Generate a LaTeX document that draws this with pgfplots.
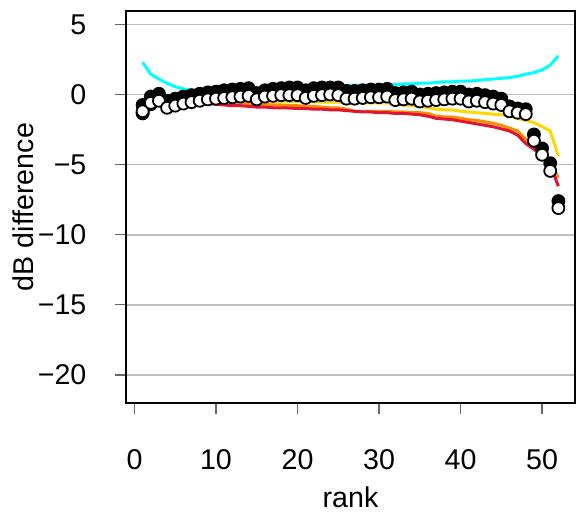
\documentclass[border=0pt]{standalone}
\usepackage{fontspec}
\setmainfont{Liberation Sans}
\usepackage{pgfplots}
\pgfplotsset{compat=1.18}
\usepackage{pgfplotstable}

\pgfplotstableread{
x b w
1 -0.75 -1.2
2 -0.15 -0.6
3 0.05 -0.45
4 -0.45 -0.95
5 -0.3 -0.8
6 -0.15 -0.65
7 -0.05 -0.55
8 0.05 -0.45
9 0.15 -0.35
10 0.2 -0.3
11 0.3 -0.25
12 0.35 -0.2
13 0.4 -0.15
14 0.45 -0.1
15 0.1 -0.35
16 0.3 -0.15
17 0.4 -0.1
18 0.45 -0.05
19 0.5 -0.05
20 0.5 -0.05
21 0.3 -0.25
22 0.45 -0.1
23 0.5 -0.05
24 0.5 0.0
25 0.5 -0.05
26 0.25 -0.3
27 0.25 -0.3
28 0.3 -0.25
29 0.35 -0.2
30 0.35 -0.2
31 0.4 -0.15
32 0.1 -0.4
33 0.15 -0.35
34 0.2 -0.3
35 0.0 -0.5
36 0.05 -0.45
37 0.1 -0.4
38 0.15 -0.35
39 0.2 -0.3
40 0.2 -0.3
41 0.0 -0.5
42 0.05 -0.45
43 -0.05 -0.55
44 -0.15 -0.65
45 -0.3 -0.75
46 -0.85 -1.2
47 -1.0 -1.3
48 -1.05 -1.4
49 -2.85 -3.3
50 -3.85 -4.3
51 -4.9 -5.45
52 -7.6 -8.1
}\pts

\pgfplotstableread{
x c y o r
1 2.3 -1.2 -1.3 -1.35
2 1.45 -0.7 -0.75 -0.8
3 1.1 -0.55 -0.6 -0.7
4 0.8 -0.8 -0.9 -1.0
5 0.55 -0.65 -0.75 -0.85
6 0.4 -0.55 -0.65 -0.75
7 0.3 -0.45 -0.55 -0.7
8 0.3 -0.4 -0.5 -0.65
9 0.3 -0.35 -0.5 -0.65
10 0.3 -0.35 -0.5 -0.7
11 0.3 -0.35 -0.55 -0.75
12 0.35 -0.4 -0.6 -0.8
13 0.35 -0.4 -0.6 -0.8
14 0.35 -0.4 -0.65 -0.85
15 0.4 -0.45 -0.7 -0.9
16 0.4 -0.45 -0.7 -0.9
17 0.45 -0.45 -0.75 -0.95
18 0.45 -0.5 -0.75 -0.95
19 0.45 -0.5 -0.8 -0.97
20 0.5 -0.5 -0.8 -1.0
21 0.5 -0.5 -0.85 -1.0
22 0.5 -0.5 -0.85 -1.05
23 0.55 -0.55 -0.9 -1.05
24 0.6 -0.55 -0.95 -1.1
25 0.65 -0.55 -0.95 -1.1
26 0.65 -0.6 -1.05 -1.15
27 0.65 -0.6 -1.2 -1.2
28 0.65 -0.6 -1.2 -1.25
29 0.65 -0.6 -1.2 -1.25
30 0.65 -0.6 -1.2 -1.3
31 0.7 -0.6 -1.2 -1.3
32 0.7 -0.7 -1.25 -1.35
33 0.75 -0.75 -1.25 -1.35
34 0.75 -0.8 -1.3 -1.4
35 0.8 -0.85 -1.3 -1.45
36 0.8 -0.95 -1.35 -1.55
37 0.85 -1.05 -1.55 -1.7
38 0.9 -1.1 -1.6 -1.75
39 0.9 -1.1 -1.6 -1.8
40 0.95 -1.2 -1.7 -1.9
41 0.95 -1.25 -1.8 -2.0
42 1.0 -1.3 -1.85 -2.1
43 1.05 -1.35 -1.95 -2.2
44 1.1 -1.4 -2.05 -2.3
45 1.15 -1.45 -2.2 -2.45
46 1.2 -1.5 -2.4 -2.6
47 1.3 -1.7 -2.6 -2.9
48 1.45 -1.85 -3.2 -3.5
49 1.55 -2.0 -3.7 -3.9
50 1.75 -2.3 -4.2 -4.4
51 2.1 -2.6 -4.8 -5.0
52 2.75 -4.4 -5.95 -6.55
}\lns

\definecolor{mycyan}{RGB}{0,255,255}
\definecolor{mygold}{RGB}{255,215,0}
\definecolor{myorange}{RGB}{255,140,0}
\definecolor{myred}{RGB}{225,20,50}
\definecolor{gridgray}{RGB}{190,190,190}

\begin{document}
\begin{tikzpicture}
\useasboundingbox (-63pt,-56.5pt) rectangle (227.5pt,201.5pt);
\begin{axis}[
  at={(0pt,0pt)}, anchor=south west,
  width=224.5pt, height=196pt, scale only axis,
  xmin=-1.04, xmax=54.04, ymin=-22, ymax=5.95,
  xtick={0,10,20,30,40,50},
  xticklabels={0,10,20,30,40,50},
  ytick={-20,-15,-10,-5,0,5},
  yticklabels={−20,−15,−10,−5,0,5},
  xtick pos=left, ytick pos=left,
  tick align=outside, major tick length=5.5pt,
  tick style={black!60, line width=0.6pt},
  axis line style={line width=1pt},
  ymajorgrids, grid style={gridgray, line width=0.8pt},
  ticklabel style={font=\fontsize{14.3}{17}\selectfont, inner sep=0pt},
  label style={font=\fontsize{14.3}{17}\selectfont},
  yticklabel style={anchor=east, xshift=-14.1pt},
  xticklabel style={anchor=north, yshift=-17.8pt},
  xlabel={rank}, ylabel={dB difference},
  xlabel style={at={(axis description cs:0.5,-0.24)}, anchor=center},
  ylabel style={at={(axis description cs:-0.229,0.5)}, anchor=center},
  mark size=3pt,
]
\addplot[mycyan, line width=1.5pt, no marks] table[x=x, y=c] {\lns};
\addplot[mygold, line width=1.5pt, no marks] table[x=x, y=y] {\lns};
\addplot[myorange, line width=1.5pt, no marks] table[x=x, y=o] {\lns};
\addplot[myred, line width=1.5pt, no marks] table[x=x, y=r] {\lns};
\addplot[only marks, mark=*, mark options={fill=myorange, draw=black, line width=0.9pt}] coordinates {(1,-1.35)};
\addplot[only marks, mark=*, mark options={fill=mygold, draw=black, line width=0.9pt}] coordinates {(1,-1.3) (2,-0.7)};
\addplot[only marks, mark=*, mark options={fill=black, draw=black, line width=0.9pt}] table[x=x, y=b] {\pts};
\addplot[only marks, mark=*, mark options={fill=white, draw=black, line width=0.9pt}] table[x=x, y=w] {\pts};
\end{axis}
\end{tikzpicture}
\end{document}
